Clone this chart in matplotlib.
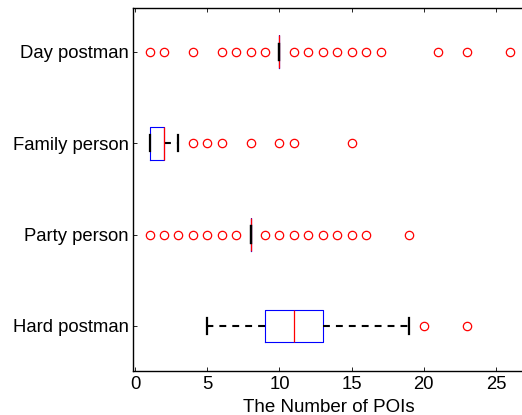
import matplotlib
matplotlib.use("Agg")
import matplotlib.pyplot as plt

categories = ["Hard postman", "Party person", "Family person", "Day postman"]
q1 = [9, 8, 1, 10]
med = [11, 8, 2, 10]
q3 = [13, 8, 2, 10]
whislo = [5, 8, 1, 10]
whishi = [19, 8, 3, 10]
fliers = [
    [20, 23],
    [1, 2, 3, 4, 5, 6, 7, 9, 10, 11, 12, 13, 14, 15, 16, 19],
    [4, 5, 6, 8, 10, 11, 15],
    [1, 2, 4, 6, 7, 8, 9, 11, 12, 13, 14, 15, 16, 17, 21, 23, 26],
]
xticks = [0, 5, 10, 15, 20, 25]
xlabel = "The Number of POIs"

plt.rcParams['font.family'] = ['Liberation Sans', 'DejaVu Sans']

stats = []
for i, name in enumerate(categories):
    stats.append(dict(label=name, q1=q1[i], med=med[i], q3=q3[i],
                      whislo=whislo[i], whishi=whishi[i], fliers=fliers[i]))

fig = plt.figure(figsize=(5.22, 4.15), dpi=100)
ax = fig.add_axes([0.2548, 0.1067, 0.7506, 0.874])

ax.bxp(stats, positions=[1, 2, 3, 4], vert=False, widths=0.36, capwidths=0.18,
       boxprops=dict(color='blue', linewidth=0.8, zorder=2),
       medianprops=dict(color='red', linewidth=0.9, zorder=2.5),
       whiskerprops=dict(color='black', linewidth=1.5, linestyle=(0, (3.3, 2.9))),
       capprops=dict(color='black', linewidth=1.6, zorder=3),
       flierprops=dict(marker='o', markerfacecolor='none', markeredgecolor='red',
                       markersize=6, markeredgewidth=0.9, linestyle='none'))

ax.set_xlim(-0.15, 27)
ax.set_ylim(0.51, 4.48)
ax.set_xticks(xticks)
ax.set_xticklabels([str(t) for t in xticks])
ax.set_yticks([1, 2, 3, 4])
ax.set_yticklabels(categories)
ax.tick_params(direction='in', length=3, width=0.6, labelsize=13.3, top=True,
               pad=3, colors='black')
ax.tick_params(axis='x', pad=4)
ax.set_xlabel(xlabel, fontsize=13.5, labelpad=4)
for s in ax.spines.values():
    s.set_linewidth(1.0)
ax.spines['right'].set_visible(False)

fig.savefig("out.png", dpi=100)
